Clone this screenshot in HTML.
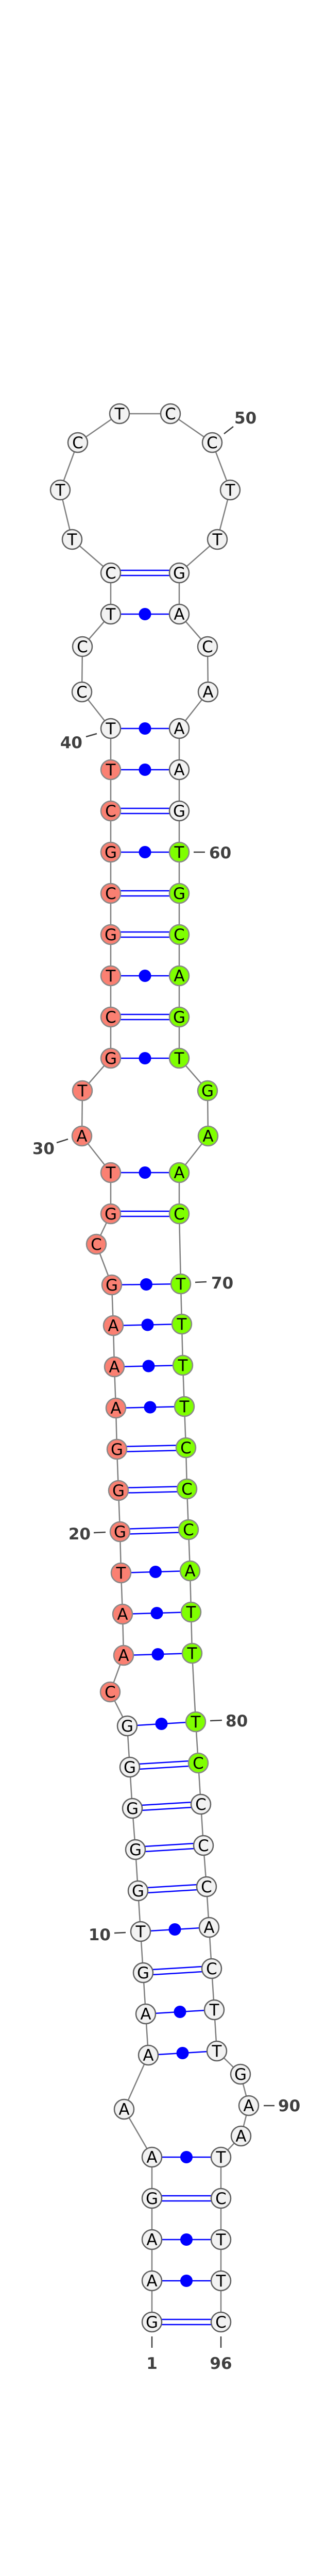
<!DOCTYPE html>
<html><head><meta charset="utf-8"><style>
html,body{margin:0;padding:0;background:#fff;width:600px;height:5328px;overflow:hidden}
svg{display:block;position:absolute;left:0;top:0}
.bb{fill:none;stroke:#808080;stroke-width:2.5}
.pl{stroke:#0000ff;stroke-width:2.5}
.w{fill:#f2f2f2;stroke:#606060;stroke-width:2.5}
.r{fill:#fa8072;stroke:#888;stroke-width:2.5}
.g{fill:#7fff00;stroke:#888;stroke-width:2.5}
.nt text{font-family:"DejaVu Sans","Liberation Sans",sans-serif;font-size:31px;text-anchor:middle;fill:#000}
.lb{font-family:"DejaVu Sans","Liberation Sans",sans-serif;font-size:31px;font-weight:bold;fill:#404040}
.tk{stroke:#404040;stroke-width:2.5}
</style></head><body>
<svg width="600" height="5328" viewBox="0 0 600 5328" xmlns="http://www.w3.org/2000/svg">
<polyline class="bb" points="295,4507 295,4427 295,4347 295,4267 295,4187 241,4094 288,3989 283,3909 278,3829 273,3749 268,3670 263,3590 257,3510 252,3430 247,3350 214,3284 240,3213 238,3133 235,3053 233,2973 230,2893 227,2813 225,2733 222,2653 220,2573 217,2494 187,2415 215,2356 215,2276 159,2205 160,2117 215,2054 215,1974 215,1894 215,1814 215,1734 215,1654 215,1574 215,1494 215,1414 159,1343 160,1255 215,1192 215,1112 140,1047 117,951 151,859 232,803 331,803 412,859 447,951 422,1047 348,1112 348,1192 403,1255 404,1343 348,1414 348,1494 348,1574 348,1654 348,1734 348,1814 348,1894 348,1974 348,2054 403,2117 404,2205 348,2276 348,2356 351,2492 353,2570 355,2650 358,2730 361,2810 363,2890 366,2969 369,3049 371,3129 373,3209 380,3342 385,3422 390,3502 395,3582 401,3662 406,3741 411,3821 416,3901 421,3981 467,4026 483,4087 468,4146 429,4187 429,4267 429,4347 429,4427 429,4507"/>
<g class="pl">
<line x1="295" y1="4502" x2="429" y2="4502"/><line x1="295" y1="4512" x2="429" y2="4512"/>
<line x1="295" y1="4262" x2="429" y2="4262"/><line x1="295" y1="4272" x2="429" y2="4272"/>
<line x1="278" y1="3824" x2="411" y2="3816"/><line x1="278" y1="3834" x2="411" y2="3826"/>
<line x1="268" y1="3665" x2="401" y2="3657"/><line x1="268" y1="3675" x2="401" y2="3667"/>
<line x1="263" y1="3585" x2="395" y2="3577"/><line x1="263" y1="3595" x2="395" y2="3587"/>
<line x1="257" y1="3505" x2="390" y2="3497"/><line x1="257" y1="3515" x2="390" y2="3507"/>
<line x1="252" y1="3425" x2="385" y2="3417"/><line x1="252" y1="3435" x2="385" y2="3427"/>
<line x1="233" y1="2968" x2="366" y2="2964"/><line x1="233" y1="2978" x2="366" y2="2974"/>
<line x1="230" y1="2888" x2="363" y2="2885"/><line x1="230" y1="2898" x2="363" y2="2895"/>
<line x1="227" y1="2808" x2="361" y2="2805"/><line x1="227" y1="2818" x2="361" y2="2815"/>
<line x1="215" y1="2351" x2="348" y2="2351"/><line x1="215" y1="2361" x2="348" y2="2361"/>
<line x1="215" y1="1969" x2="348" y2="1969"/><line x1="215" y1="1979" x2="348" y2="1979"/>
<line x1="215" y1="1809" x2="348" y2="1809"/><line x1="215" y1="1819" x2="348" y2="1819"/>
<line x1="215" y1="1729" x2="348" y2="1729"/><line x1="215" y1="1739" x2="348" y2="1739"/>
<line x1="215" y1="1569" x2="348" y2="1569"/><line x1="215" y1="1579" x2="348" y2="1579"/>
<line x1="215" y1="1107" x2="348" y2="1107"/><line x1="215" y1="1117" x2="348" y2="1117"/>
<line x1="295" y1="4427" x2="429" y2="4427"/>
<line x1="295" y1="4347" x2="429" y2="4347"/>
<line x1="295" y1="4187" x2="429" y2="4187"/>
<line x1="288" y1="3989" x2="421" y2="3981"/>
<line x1="283" y1="3909" x2="416" y2="3901"/>
<line x1="273" y1="3749" x2="406" y2="3741"/>
<line x1="247" y1="3350" x2="380" y2="3342"/>
<line x1="240" y1="3213" x2="373" y2="3209"/>
<line x1="238" y1="3133" x2="371" y2="3129"/>
<line x1="235" y1="3053" x2="369" y2="3049"/>
<line x1="225" y1="2733" x2="358" y2="2730"/>
<line x1="222" y1="2653" x2="355" y2="2650"/>
<line x1="220" y1="2573" x2="353" y2="2570"/>
<line x1="217" y1="2494" x2="351" y2="2492"/>
<line x1="215" y1="2276" x2="348" y2="2276"/>
<line x1="215" y1="2054" x2="348" y2="2054"/>
<line x1="215" y1="1894" x2="348" y2="1894"/>
<line x1="215" y1="1654" x2="348" y2="1654"/>
<line x1="215" y1="1494" x2="348" y2="1494"/>
<line x1="215" y1="1414" x2="348" y2="1414"/>
<line x1="215" y1="1192" x2="348" y2="1192"/>
</g>
<g fill="#0000ff">
<circle cx="362" cy="4427" r="12"/><circle cx="362" cy="4347" r="12"/><circle cx="362" cy="4187" r="12"/>
<circle cx="354.5" cy="3985" r="12"/><circle cx="349.5" cy="3905" r="12"/><circle cx="339.5" cy="3745" r="12"/>
<circle cx="313.5" cy="3346" r="12"/><circle cx="306.5" cy="3211" r="12"/><circle cx="304.5" cy="3131" r="12"/>
<circle cx="302" cy="3051" r="12"/><circle cx="291.5" cy="2731.5" r="12"/><circle cx="288.5" cy="2651.5" r="12"/>
<circle cx="286.5" cy="2571.5" r="12"/><circle cx="284" cy="2493" r="12"/><circle cx="281.5" cy="2276" r="12"/>
<circle cx="281.5" cy="2054" r="12"/><circle cx="281.5" cy="1894" r="12"/><circle cx="281.5" cy="1654" r="12"/>
<circle cx="281.5" cy="1494" r="12"/><circle cx="281.5" cy="1414" r="12"/><circle cx="281.5" cy="1192" r="12"/>
</g>
<g class="nt">
<circle class="w" cx="295" cy="4507" r="19"/><text x="295" y="4518">G</text>
<circle class="w" cx="295" cy="4427" r="19"/><text x="295" y="4438">A</text>
<circle class="w" cx="295" cy="4347" r="19"/><text x="295" y="4358">A</text>
<circle class="w" cx="295" cy="4267" r="19"/><text x="295" y="4278">G</text>
<circle class="w" cx="295" cy="4187" r="19"/><text x="295" y="4198">A</text>
<circle class="w" cx="241" cy="4094" r="19"/><text x="241" y="4105">A</text>
<circle class="w" cx="288" cy="3989" r="19"/><text x="288" y="4000">A</text>
<circle class="w" cx="283" cy="3909" r="19"/><text x="283" y="3920">A</text>
<circle class="w" cx="278" cy="3829" r="19"/><text x="278" y="3840">G</text>
<circle class="w" cx="273" cy="3749" r="19"/><text x="273" y="3760">T</text>
<circle class="w" cx="268" cy="3670" r="19"/><text x="268" y="3681">G</text>
<circle class="w" cx="263" cy="3590" r="19"/><text x="263" y="3601">G</text>
<circle class="w" cx="257" cy="3510" r="19"/><text x="257" y="3521">G</text>
<circle class="w" cx="252" cy="3430" r="19"/><text x="252" y="3441">G</text>
<circle class="w" cx="247" cy="3350" r="19"/><text x="247" y="3361">G</text>
<circle class="r" cx="214" cy="3284" r="19"/><text x="214" y="3295">C</text>
<circle class="r" cx="240" cy="3213" r="19"/><text x="240" y="3224">A</text>
<circle class="r" cx="238" cy="3133" r="19"/><text x="238" y="3144">A</text>
<circle class="r" cx="235" cy="3053" r="19"/><text x="235" y="3064">T</text>
<circle class="r" cx="233" cy="2973" r="19"/><text x="233" y="2984">G</text>
<circle class="r" cx="230" cy="2893" r="19"/><text x="230" y="2904">G</text>
<circle class="r" cx="227" cy="2813" r="19"/><text x="227" y="2824">G</text>
<circle class="r" cx="225" cy="2733" r="19"/><text x="225" y="2744">A</text>
<circle class="r" cx="222" cy="2653" r="19"/><text x="222" y="2664">A</text>
<circle class="r" cx="220" cy="2573" r="19"/><text x="220" y="2584">A</text>
<circle class="r" cx="217" cy="2494" r="19"/><text x="217" y="2505">G</text>
<circle class="r" cx="187" cy="2415" r="19"/><text x="187" y="2426">C</text>
<circle class="r" cx="215" cy="2356" r="19"/><text x="215" y="2367">G</text>
<circle class="r" cx="215" cy="2276" r="19"/><text x="215" y="2287">T</text>
<circle class="r" cx="159" cy="2205" r="19"/><text x="159" y="2216">A</text>
<circle class="r" cx="160" cy="2117" r="19"/><text x="160" y="2128">T</text>
<circle class="r" cx="215" cy="2054" r="19"/><text x="215" y="2065">G</text>
<circle class="r" cx="215" cy="1974" r="19"/><text x="215" y="1985">C</text>
<circle class="r" cx="215" cy="1894" r="19"/><text x="215" y="1905">T</text>
<circle class="r" cx="215" cy="1814" r="19"/><text x="215" y="1825">G</text>
<circle class="r" cx="215" cy="1734" r="19"/><text x="215" y="1745">C</text>
<circle class="r" cx="215" cy="1654" r="19"/><text x="215" y="1665">G</text>
<circle class="r" cx="215" cy="1574" r="19"/><text x="215" y="1585">C</text>
<circle class="r" cx="215" cy="1494" r="19"/><text x="215" y="1505">T</text>
<circle class="w" cx="215" cy="1414" r="19"/><text x="215" y="1425">T</text>
<circle class="w" cx="159" cy="1343" r="19"/><text x="159" y="1354">C</text>
<circle class="w" cx="160" cy="1255" r="19"/><text x="160" y="1266">C</text>
<circle class="w" cx="215" cy="1192" r="19"/><text x="215" y="1203">T</text>
<circle class="w" cx="215" cy="1112" r="19"/><text x="215" y="1123">C</text>
<circle class="w" cx="140" cy="1047" r="19"/><text x="140" y="1058">T</text>
<circle class="w" cx="117" cy="951" r="19"/><text x="117" y="962">T</text>
<circle class="w" cx="151" cy="859" r="19"/><text x="151" y="870">C</text>
<circle class="w" cx="232" cy="803" r="19"/><text x="232" y="814">T</text>
<circle class="w" cx="331" cy="803" r="19"/><text x="331" y="814">C</text>
<circle class="w" cx="412" cy="859" r="19"/><text x="412" y="870">C</text>
<circle class="w" cx="447" cy="951" r="19"/><text x="447" y="962">T</text>
<circle class="w" cx="422" cy="1047" r="19"/><text x="422" y="1058">T</text>
<circle class="w" cx="348" cy="1112" r="19"/><text x="348" y="1123">G</text>
<circle class="w" cx="348" cy="1192" r="19"/><text x="348" y="1203">A</text>
<circle class="w" cx="403" cy="1255" r="19"/><text x="403" y="1266">C</text>
<circle class="w" cx="404" cy="1343" r="19"/><text x="404" y="1354">A</text>
<circle class="w" cx="348" cy="1414" r="19"/><text x="348" y="1425">A</text>
<circle class="w" cx="348" cy="1494" r="19"/><text x="348" y="1505">A</text>
<circle class="w" cx="348" cy="1574" r="19"/><text x="348" y="1585">G</text>
<circle class="g" cx="348" cy="1654" r="19"/><text x="348" y="1665">T</text>
<circle class="g" cx="348" cy="1734" r="19"/><text x="348" y="1745">G</text>
<circle class="g" cx="348" cy="1814" r="19"/><text x="348" y="1825">C</text>
<circle class="g" cx="348" cy="1894" r="19"/><text x="348" y="1905">A</text>
<circle class="g" cx="348" cy="1974" r="19"/><text x="348" y="1985">G</text>
<circle class="g" cx="348" cy="2054" r="19"/><text x="348" y="2065">T</text>
<circle class="g" cx="403" cy="2117" r="19"/><text x="403" y="2128">G</text>
<circle class="g" cx="404" cy="2205" r="19"/><text x="404" y="2216">A</text>
<circle class="g" cx="348" cy="2276" r="19"/><text x="348" y="2287">A</text>
<circle class="g" cx="348" cy="2356" r="19"/><text x="348" y="2367">C</text>
<circle class="g" cx="351" cy="2492" r="19"/><text x="351" y="2503">T</text>
<circle class="g" cx="353" cy="2570" r="19"/><text x="353" y="2581">T</text>
<circle class="g" cx="355" cy="2650" r="19"/><text x="355" y="2661">T</text>
<circle class="g" cx="358" cy="2730" r="19"/><text x="358" y="2741">T</text>
<circle class="g" cx="361" cy="2810" r="19"/><text x="361" y="2821">C</text>
<circle class="g" cx="363" cy="2890" r="19"/><text x="363" y="2901">C</text>
<circle class="g" cx="366" cy="2969" r="19"/><text x="366" y="2980">C</text>
<circle class="g" cx="369" cy="3049" r="19"/><text x="369" y="3060">A</text>
<circle class="g" cx="371" cy="3129" r="19"/><text x="371" y="3140">T</text>
<circle class="g" cx="373" cy="3209" r="19"/><text x="373" y="3220">T</text>
<circle class="g" cx="380" cy="3342" r="19"/><text x="380" y="3353">T</text>
<circle class="g" cx="385" cy="3422" r="19"/><text x="385" y="3433">C</text>
<circle class="w" cx="390" cy="3502" r="19"/><text x="390" y="3513">C</text>
<circle class="w" cx="395" cy="3582" r="19"/><text x="395" y="3593">C</text>
<circle class="w" cx="401" cy="3662" r="19"/><text x="401" y="3673">C</text>
<circle class="w" cx="406" cy="3741" r="19"/><text x="406" y="3752">A</text>
<circle class="w" cx="411" cy="3821" r="19"/><text x="411" y="3832">C</text>
<circle class="w" cx="416" cy="3901" r="19"/><text x="416" y="3912">T</text>
<circle class="w" cx="421" cy="3981" r="19"/><text x="421" y="3992">T</text>
<circle class="w" cx="467" cy="4026" r="19"/><text x="467" y="4037">G</text>
<circle class="w" cx="483" cy="4087" r="19"/><text x="483" y="4098">A</text>
<circle class="w" cx="468" cy="4146" r="19"/><text x="468" y="4157">A</text>
<circle class="w" cx="429" cy="4187" r="19"/><text x="429" y="4198">T</text>
<circle class="w" cx="429" cy="4267" r="19"/><text x="429" y="4278">C</text>
<circle class="w" cx="429" cy="4347" r="19"/><text x="429" y="4358">T</text>
<circle class="w" cx="429" cy="4427" r="19"/><text x="429" y="4438">T</text>
<circle class="w" cx="429" cy="4507" r="19"/><text x="429" y="4518">C</text>
</g>
<g class="tk">
<line x1="435" y1="842" x2="453" y2="828"/>
<line x1="167" y1="1430" x2="188" y2="1424"/>
<line x1="376" y1="1654" x2="398" y2="1654"/>
<line x1="110" y1="2218" x2="132" y2="2211"/>
<line x1="379" y1="2489" x2="401" y2="2488"/>
<line x1="182" y1="2975" x2="205" y2="2974"/>
<line x1="408" y1="3340" x2="431" y2="3339"/>
<line x1="222" y1="3752" x2="244" y2="3751"/>
<line x1="512" y1="4087" x2="533" y2="4087"/>
<line x1="295" y1="4535" x2="295" y2="4557"/>
<line x1="429" y1="4535" x2="429" y2="4557"/>
</g>
<g class="lb">
<text x="455" y="822">50</text>
<text x="160" y="1452" text-anchor="end">40</text>
<text x="406" y="1666">60</text>
<text x="106" y="2240" text-anchor="end">30</text>
<text x="410" y="2501">70</text>
<text x="176" y="2988" text-anchor="end">20</text>
<text x="438" y="3351">80</text>
<text x="215" y="3766" text-anchor="end">10</text>
<text x="540" y="4098">90</text>
<text x="295" y="4598" text-anchor="middle">1</text>
<text x="429" y="4598" text-anchor="middle">96</text>
</g>
<text x="300" y="5230" text-anchor="middle" font-family="Liberation Sans, sans-serif" font-size="9" font-weight="bold" fill="#000">dm_97_anent (-41.6)</text>
</svg>
</body></html>
